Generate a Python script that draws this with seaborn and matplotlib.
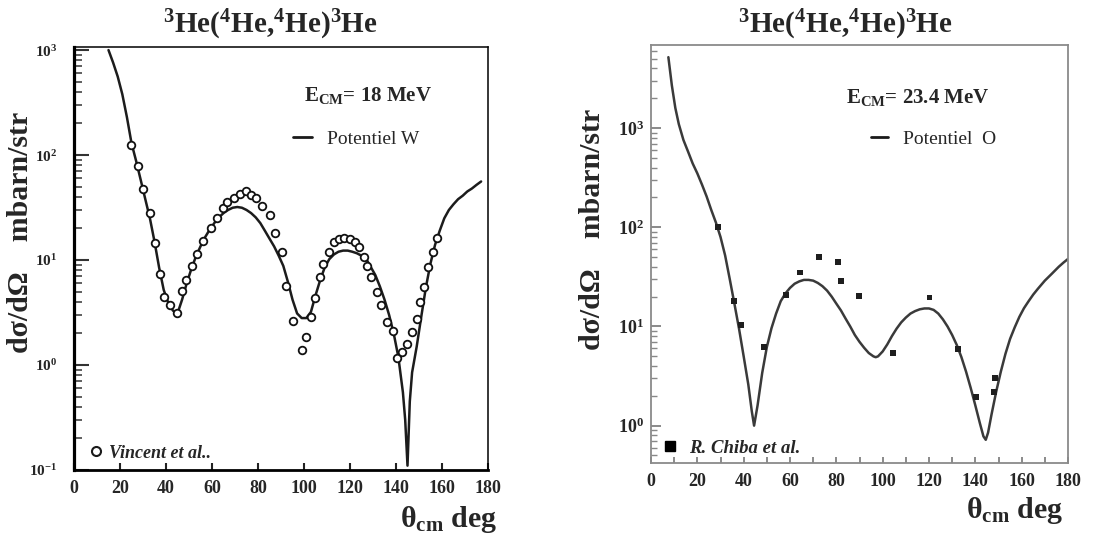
import numpy as np
import pandas as pd
import seaborn as sns
import matplotlib.pyplot as plt
from matplotlib.lines import Line2D
from matplotlib.ticker import FuncFormatter, LogLocator, MultipleLocator, NullFormatter

# %%
# gauche : E_CM = 18 MeV, potentiel W + points Vincent et al.
w_theta = [15, 17, 19, 21, 23, 25, 27, 29, 31, 33, 35, 37, 39, 41, 43, 45, 47, 49, 51, 53,
           55, 57, 59, 61, 63, 65, 67, 69, 71, 73, 75, 77, 79, 81, 83, 85, 87, 89, 91, 93,
           95, 97, 99, 101, 103, 105, 107, 109, 111, 113, 115, 117, 119, 121, 123, 125, 127,
           129, 131, 133, 135, 137, 139, 141, 143, 144, 145, 146, 147, 149, 151, 153, 155,
           157, 159, 161, 163, 165, 167, 169, 171, 173, 175, 177]
w_sigma = [1000, 760, 560, 380, 230, 130, 88, 58, 38, 25, 15, 8.5, 5.2, 3.9, 3.3, 3.1, 4.2,
           6.0, 8.2, 10.8, 13.5, 16.5, 19.5, 22.5, 25.5, 28, 30, 31.5, 32, 31.5, 30, 28, 25.5,
           22.5, 19, 16, 13.5, 11, 8.8, 6.2, 4.2, 3.1, 2.8, 2.8, 3.2, 4.6, 6.4, 8.5, 10.2,
           11.3, 12.0, 12.3, 12.3, 12.0, 11.6, 11.0, 10.3, 8.6, 7.2, 5.6, 4.2, 3.0, 2.0, 1.2,
           0.55, 0.3, 0.11, 0.45, 0.85, 1.5, 2.9, 5.5, 9.3, 14, 19, 25, 30, 34, 38, 41, 45,
           48, 52, 56]

vincent_theta = [24.9, 27.7, 30.1, 32.9, 35.1, 37.4, 39.1, 41.6, 44.9, 47.1, 48.8, 51.4, 53.3,
                 56.2, 59.4, 62.3, 64.9, 66.7, 69.6, 72.2, 74.6, 76.8, 79.0, 81.9, 85.2, 87.2,
                 90.3, 92.0, 95.4, 99.3, 100.7, 103.2, 104.6, 107.0, 108.4, 110.9, 113.0,
                 115.2, 117.4, 120.0, 122.0, 123.9, 126.0, 127.5, 129.3, 131.9, 133.3, 136.2,
                 138.8, 140.6, 142.8, 144.9, 147.1, 149.0, 150.4, 152.2, 153.9, 156.2, 158.0]
vincent_sigma = [124, 78, 47, 28, 14.4, 7.4, 4.4, 3.7, 3.1, 5.1, 6.5, 8.8, 11.5, 15.1, 20, 25,
                 31, 36, 39, 43, 45, 42, 39, 33, 27, 18, 11.8, 5.7, 2.65, 1.4, 1.84, 2.86, 4.35,
                 6.9, 9.1, 12, 15, 16, 16.3, 15.8, 14.9, 13.4, 10.7, 8.8, 6.9, 5.0, 3.7, 2.56,
                 2.13, 1.16, 1.32, 1.59, 2.05, 2.76, 4.0, 5.5, 8.6, 12, 16.3]

# droite : E_CM = 23.4 MeV, potentiel O + points R. Chiba et al.
o_theta = [7.5, 9, 10.5, 12, 14, 16, 18, 20, 22, 24, 26, 28, 30, 32, 34, 36, 38, 40, 42, 43.5,
           44.5, 46, 48, 50, 52, 54, 56, 58, 60, 62, 64, 66, 68, 70, 72, 74, 76, 78, 80, 82,
           84, 86, 88, 90, 92, 94, 96, 97, 98, 100, 102, 104, 106, 108, 110, 112, 114, 116,
           118, 120, 122, 124, 126, 128, 130, 132, 134, 136, 138, 140, 142, 143.5, 144.5,
           145.5, 147, 149, 151, 153, 155, 157, 159, 161, 163, 165, 167, 170, 173, 176, 178,
           180]
o_sigma = [5200, 2700, 1600, 1100, 760, 580, 440, 350, 270, 205, 150, 112, 80, 52, 30, 17, 9.5,
           5.0, 2.6, 1.4, 1.0, 1.6, 3.4, 6.2, 9.6, 13.5, 18, 21.5, 24.5, 27, 28.5, 29.5, 29.5,
           29, 27.5, 25.5, 23, 20, 17, 14.5, 12, 10, 8.2, 7, 6.1, 5.4, 5.0, 4.9, 5.0, 5.6, 6.6,
           8, 9.5, 11, 12.3, 13.5, 14.3, 14.9, 15.2, 15.2, 14.7, 13.5, 11.8, 10, 8.2, 6.5, 4.9,
           3.5, 2.4, 1.6, 1.05, 0.78, 0.72, 0.85, 1.3, 2.2, 3.5, 5.3, 7.5, 9.8, 12.5, 15.3, 18,
           21, 24, 29, 34, 40, 44, 48]

chiba_theta = [29.0, 36.0, 38.7, 48.8, 58.2, 64.4, 72.6, 80.8, 82.0, 89.9, 104.3, 120.2,
               132.5, 140.4, 148.3, 148.0]
chiba_sigma = [101, 18, 10.4, 6.2, 20.8, 35, 50.5, 45, 29, 20.3, 5.4, 19.6, 5.9, 1.96, 3.0, 2.2]

# %%
sns.set_theme(style='white')
plt.rcParams['font.family'] = ['Liberation Serif', 'DejaVu Serif']
plt.rcParams['font.weight'] = 'bold'
plt.rcParams['mathtext.fontset'] = 'custom'
plt.rcParams['mathtext.rm'] = 'Liberation Serif'
plt.rcParams['mathtext.bf'] = 'Liberation Serif:bold'
plt.rcParams['mathtext.it'] = 'Liberation Serif:italic'

W, H = 1109, 537
fig = plt.figure(figsize=(W / 100, H / 100), dpi=100)
ax1 = fig.add_axes([74 / W, 1 - 470 / H, 414 / W, 423 / H])
ax2 = fig.add_axes([651 / W, 1 - 463 / H, 417 / W, 418 / H])

puiss = FuncFormatter(lambda v, p: r'$\mathbf{10^{%d}}$' % round(np.log10(v)))

# %%
# panneau gauche
ax1.set_yscale('log')
sns.lineplot(x=w_theta, y=w_sigma, ax=ax1, color='#1c1c1c', lw=1.8, sort=False, estimator=None)
sns.scatterplot(x=vincent_theta, y=vincent_sigma, ax=ax1, marker='o', s=30, color='white',
                edgecolor='#111111', linewidth=1.3, zorder=3)
ax1.set_xlim(0, 180)
ax1.set_ylim(0.1, 1070)
ax1.xaxis.set_major_locator(MultipleLocator(20))
ax1.yaxis.set_major_locator(LogLocator(base=10, numticks=10))
ax1.yaxis.set_minor_locator(LogLocator(base=10, subs=np.arange(2, 10), numticks=20))
ax1.yaxis.set_major_formatter(puiss)
ax1.yaxis.set_minor_formatter(NullFormatter())
ax1.tick_params(axis='x', direction='in', length=5, width=1.5, color='#222', labelsize=13,
                pad=7, bottom=True, top=False)
ax1.tick_params(axis='y', which='major', direction='in', length=11, width=1.5, color='#333',
                labelsize=11, pad=12, left=True, right=False)
ax1.tick_params(axis='y', which='minor', direction='in', length=6, width=1.2, color='#444',
                left=True, right=False)
for s, lw in zip(['left', 'bottom', 'top', 'right'], [2.3, 2.0, 1.1, 1.1]):
    ax1.spines[s].set_linewidth(lw)
    ax1.spines[s].set_color('black')

leg = ax1.legend([Line2D([], [], color='k', lw=2)], ['Potentiel W'], loc='center left',
                 bbox_to_anchor=(293 / W, 1 - 139 / H), bbox_transform=fig.transFigure,
                 frameon=False, borderpad=0, borderaxespad=0, handlelength=1.0,
                 handletextpad=0.77, prop={'weight': 'normal', 'size': 14})
ax1.add_artist(leg)
ax1.legend([Line2D([], [], ls='none', marker='o', ms=6.5, mfc='white', mec='k', mew=1.5)],
           ['Vincent et al..'], loc='center left', bbox_to_anchor=(91 / W, 1 - 453 / H),
           bbox_transform=fig.transFigure, frameon=False, borderpad=0, borderaxespad=0,
           handlelength=0.6, handletextpad=0.42,
           prop={'weight': 'bold', 'style': 'italic', 'size': 13})
fig.text(368 / W, 1 - 96 / H, r'E$_{\mathbf{CM}}$= 18 MeV', ha='center', va='center', fontsize=15)

# %%
# panneau droit
ax2.set_yscale('log')
sns.lineplot(x=o_theta, y=o_sigma, ax=ax2, color='#3a3a3a', lw=1.8, sort=False, estimator=None)
sns.scatterplot(x=chiba_theta, y=chiba_sigma, ax=ax2, marker='s', s=18, color='#1e1e1e',
                edgecolor='none', zorder=3)
ax2.set_xlim(0, 180)
ax2.set_ylim(0.42, 6900)
ax2.xaxis.set_major_locator(MultipleLocator(20))
ax2.xaxis.set_minor_locator(MultipleLocator(10))
ax2.yaxis.set_major_locator(LogLocator(base=10, numticks=10))
ax2.yaxis.set_minor_locator(LogLocator(base=10, subs=np.arange(2, 10), numticks=20))
ax2.yaxis.set_major_formatter(puiss)
ax2.yaxis.set_minor_formatter(NullFormatter())
ax2.tick_params(axis='x', which='both', direction='in', length=4, width=1.2, color='#777',
                labelsize=13, pad=7, bottom=True, top=False)
ax2.tick_params(axis='y', which='major', direction='in', length=7, width=1.2, color='#777',
                labelsize=13, pad=5, left=True, right=False)
ax2.tick_params(axis='y', which='minor', direction='in', length=4, width=1.0, color='#888',
                left=True, right=False)
for s in ['left', 'bottom', 'top', 'right']:
    ax2.spines[s].set_linewidth(1.3)
    ax2.spines[s].set_color('#8a8a8a')

leg = ax2.legend([Line2D([], [], color='k', lw=2)], ['Potentiel  O'], loc='center left',
                 bbox_to_anchor=(871 / W, 1 - 139 / H), bbox_transform=fig.transFigure,
                 frameon=False, borderpad=0, borderaxespad=0, handlelength=0.85,
                 handletextpad=0.8, prop={'weight': 'normal', 'size': 14})
ax2.add_artist(leg)
ax2.legend([Line2D([], [], ls='none', marker='s', ms=7, mfc='black', mec='black')],
           ['R. Chiba et al.'], loc='center left', bbox_to_anchor=(664 / W, 1 - 448 / H),
           bbox_transform=fig.transFigure, frameon=False, borderpad=0, borderaxespad=0,
           handlelength=0.6, handletextpad=0.75,
           prop={'weight': 'bold', 'style': 'italic', 'size': 13.5})
fig.text(918 / W, 1 - 97 / H, r'E$_{\mathbf{CM}}$= 23.4 MeV', ha='center', va='center', fontsize=15)

# %%
# titres et axes
titre = r'$\mathbf{^{3}}$He($\mathbf{^{4}}$He,$\mathbf{^{4}}$He)$\mathbf{^{3}}$He'
fig.text(270 / W, 1 - 33 / H, titre, ha='center', va='baseline', fontsize=21)
fig.text(845 / W, 1 - 33 / H, titre, ha='center', va='baseline', fontsize=21)

ylab = 'dσ/dΩ    mbarn/str'
fig.text(21 / W, 1 - 232 / H, ylab, rotation=90, ha='center', va='center', fontsize=21.5)
fig.text(592 / W, 1 - 229 / H, ylab, rotation=90, ha='center', va='center', fontsize=21.5)

xlab = r'θ$_{\mathbf{cm}}$ deg'
fig.text(497 / W, 1 - 527 / H, xlab, ha='right', va='baseline', fontsize=21.5)
fig.text(1063 / W, 1 - 518 / H, xlab, ha='right', va='baseline', fontsize=21.5)

fig.savefig('out.png', dpi=100)
